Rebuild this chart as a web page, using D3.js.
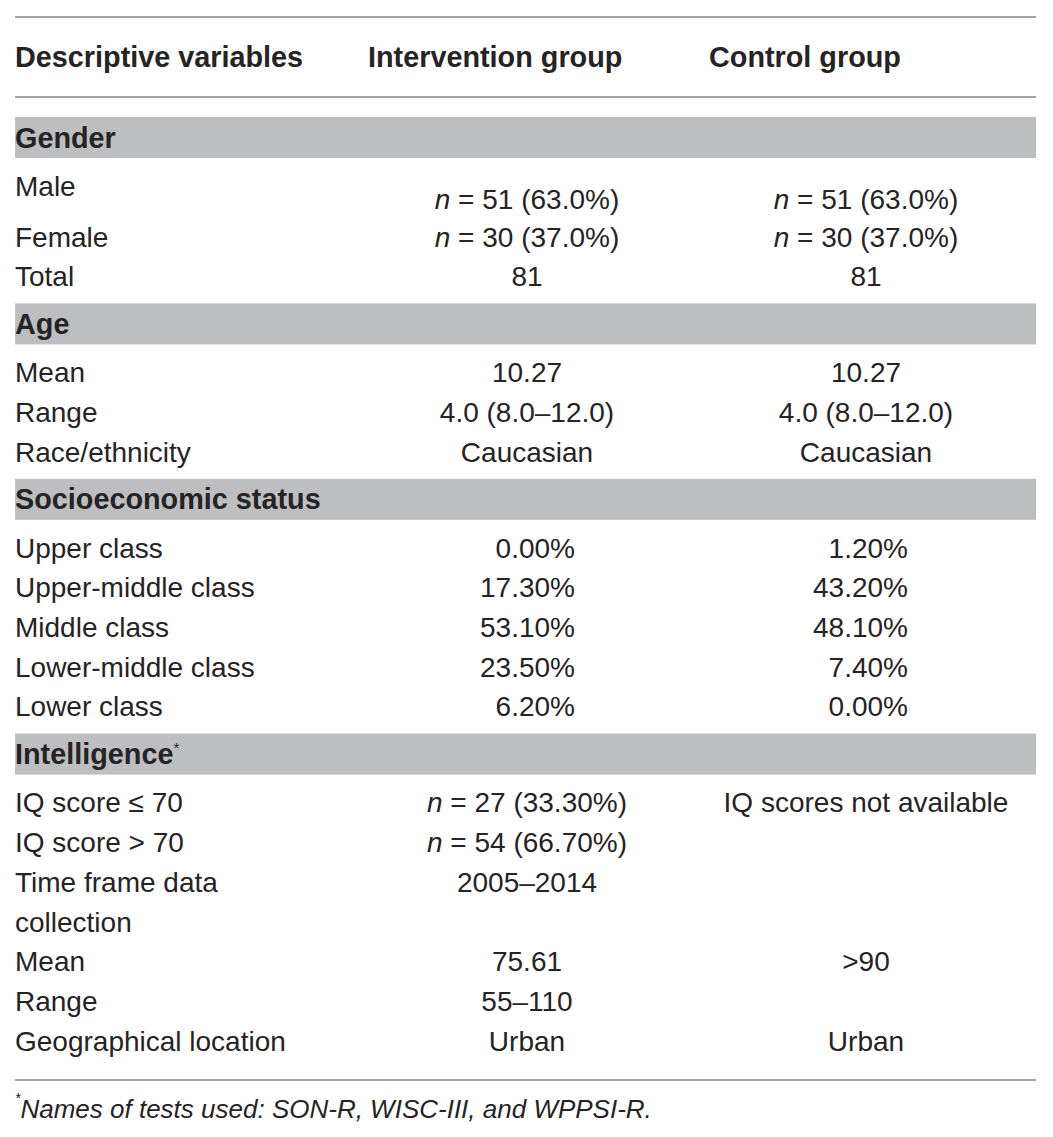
<!DOCTYPE html>
<html>
<head>
<meta charset="utf-8">
<script src="https://cdn.jsdelivr.net/npm/d3@7"></script>
<style>
  body { margin: 0; background: #fff; }
  svg { display: block; }
  text { font-family: "Liberation Sans", Arial, sans-serif; fill: #262324; }
</style>
</head>
<body>
<svg width="1053" height="1137"></svg>
<script>
// table content
const headers = ["Descriptive variables", "Intervention group", "Control group"];
const sectionTitles = ["Gender", "Age", "Socioeconomic status", "Intelligence"];
const sectionNotes = ["", "", "", "*"];
const sectionAlign = ["middle", "middle", "end", "middle"];

const genderLabels = ["Male", "Female", "Total"];
const genderIntervention = ["n = 51 (63.0%)", "n = 30 (37.0%)", "81"];
const genderControl = ["n = 51 (63.0%)", "n = 30 (37.0%)", "81"];

const ageLabels = ["Mean", "Range", "Race/ethnicity"];
const ageIntervention = ["10.27", "4.0 (8.0–12.0)", "Caucasian"];
const ageControl = ["10.27", "4.0 (8.0–12.0)", "Caucasian"];

const sesLabels = ["Upper class", "Upper-middle class", "Middle class", "Lower-middle class", "Lower class"];
const sesIntervention = ["0.00%", "17.30%", "53.10%", "23.50%", "6.20%"];
const sesControl = ["1.20%", "43.20%", "48.10%", "7.40%", "0.00%"];

const iqLabels = ["IQ score ≤ 70", "IQ score > 70", "Time frame data", "collection", "Mean", "Range", "Geographical location"];
const iqIntervention = ["n = 27 (33.30%)", "n = 54 (66.70%)", "2005–2014", "", "75.61", "55–110", "Urban"];
const iqControl = ["IQ scores not available", "", "", "", ">90", "", "Urban"];

const footnote = "Names of tests used: SON-R, WISC-III, and WPPSI-R.";

const sections = [
  [genderLabels, genderIntervention, genderControl],
  [ageLabels, ageIntervention, ageControl],
  [sesLabels, sesIntervention, sesControl],
  [iqLabels, iqIntervention, iqControl]
];

const svg = d3.select("svg");
const left = 15, right = 1036;
const fontSize = 28;
const boldSize = 28.8;
const rowStep = 39.7;
const bandH = 41;

// column anchors: left header x, centre and right edge for values
const headerX = [left, 368, 709];
const colMid = [null, 527, 866];
const colEnd = [null, 575, 908];

const lineColor = "#a4a5a8";
const bandColor = "#bcbec0";

function rule(y) {
  svg.append("line")
    .attr("x1", left).attr("x2", right)
    .attr("y1", y).attr("y2", y)
    .attr("stroke", lineColor).attr("stroke-width", 2);
}

// writes a cell, italicising a leading "n"
function cell(sel, str) {
  const m = str.match(/^n( = .*)$/);
  if (m) {
    sel.append("tspan").style("font-style", "italic").text("n");
    sel.append("tspan").text(m[1]);
  } else {
    sel.text(str);
  }
}

rule(17);
headers.forEach((h, i) => {
  svg.append("text")
    .attr("x", headerX[i]).attr("y", 57)
    .attr("dy", "0.35em")
    .attr("font-size", boldSize).attr("font-weight", "bold")
    .text(h);
});
rule(97);

let y = 117;
sections.forEach((sec, si) => {
  const [labels, iv, cv] = sec;
  svg.append("rect")
    .attr("x", left).attr("y", y)
    .attr("width", right - left).attr("height", bandH)
    .attr("fill", bandColor);
  const t = svg.append("text")
    .attr("x", left).attr("y", y + bandH / 2)
    .attr("dy", "0.35em")
    .attr("font-size", boldSize).attr("font-weight", "bold")
    .text(sectionTitles[si]);
  if (sectionNotes[si]) {
    t.append("tspan").attr("font-size", 15).attr("dy", "-0.75em")
      .attr("font-weight", "normal").text(sectionNotes[si]);
  }
  y += bandH + 28;

  // the Male row is taller in the source: its values sit lower than its label
  const tallFirst = si === 0;
  const rowY = i => y + i * rowStep + (tallFirst && i > 0 ? 11 : 0);
  labels.forEach((lab, ri) => {
    const cy = rowY(ri);
    svg.append("text")
      .attr("x", left).attr("y", cy).attr("dy", "0.35em")
      .attr("font-size", fontSize)
      .text(lab);
    const vy = (tallFirst && ri === 0) ? cy + 13 : cy;
    [iv, cv].forEach((vals, ci) => {
      const v = vals[ri];
      if (!v) return;
      const anchor = sectionAlign[si];
      const x = anchor === "end" ? colEnd[ci + 1] : colMid[ci + 1];
      const tx = svg.append("text")
        .attr("x", x).attr("y", vy).attr("dy", "0.35em")
        .attr("font-size", fontSize)
        .attr("text-anchor", anchor);
      cell(tx, v);
    });
  });
  y = rowY(labels.length - 1) + 27;
});

rule(1080);

const fn = svg.append("text")
  .attr("x", left).attr("y", 1111).attr("dy", "0.35em")
  .attr("font-size", 26).style("font-style", "italic");
fn.append("tspan").attr("font-size", 14).attr("dy", "-0.6em").text("*");
fn.append("tspan").attr("dy", "0.6em").text(footnote);
</script>
</body>
</html>
